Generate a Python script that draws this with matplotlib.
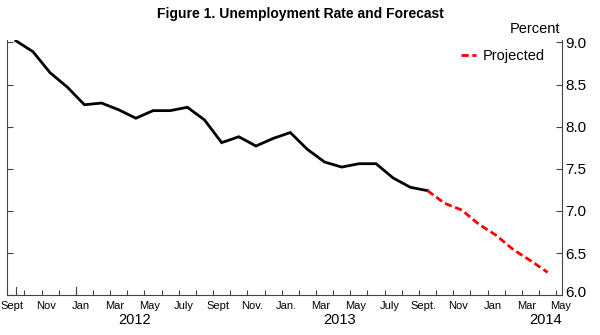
import matplotlib
matplotlib.use("Agg")
import matplotlib.pyplot as plt
import matplotlib.transforms as mtransforms
import numpy as np

# months since Sept 2011 (data at mid-month)
actual = [9.02, 8.89, 8.64, 8.47, 8.26, 8.28, 8.20, 8.10, 8.19, 8.19, 8.23, 8.08,
          7.81, 7.88, 7.77, 7.86, 7.93, 7.73, 7.58, 7.52, 7.56, 7.56, 7.39, 7.28, 7.24]
projected = [7.24, 7.09, 7.01, 6.84, 6.71, 6.54, 6.41, 6.27]

month_labels = ["Sept", "Nov", "Jan", "Mar", "May", "July", "Sept", "Nov.", "Jan.",
                "Mar", "May", "July", "Sept.", "Nov", "Jan", "Mar", "May"]
years = ["2012", "2013", "2014"]
year_pos = [6.95, 18.9, 30.9]

plt.rcParams['font.family'] = ['Liberation Sans', 'DejaVu Sans']

fig = plt.figure(figsize=(6, 3.35), dpi=100)
ax = fig.add_axes([0.012, 0.119, 0.925, 0.762])

x_act = np.arange(len(actual))
x_proj = np.arange(len(actual) - 1, len(actual) - 1 + len(projected))

ax.plot(x_act, actual, color='black', lw=2.0, solid_joinstyle='miter')
ax.plot(x_proj, projected, color='red', lw=2.0, dashes=(2.6, 1.3), label='Projected')

ax.set_xlim(-0.5, 31.85)
ax.set_ylim(6.0, 9.03)

# y axis on right, ticks inward on both sides
ax.yaxis.tick_right()
ax.set_yticks(np.arange(6.0, 9.01, 0.5))
ax.set_yticklabels([f"{v:.1f}" for v in np.arange(6.0, 9.01, 0.5)])
ax.tick_params(axis='y', which='major', direction='in', length=4, width=0.8,
               labelsize=11, pad=2, left=True, right=True, colors='#444444',
               labelcolor='black')
# lowest label nudged up a touch, clear of "May"
lbl = ax.get_yticklabels()[0]
lbl.set_transform(lbl.get_transform() +
                  mtransforms.ScaledTranslation(0, 2.5 / 72, fig.dpi_scale_trans))

# x axis: short ticks at month starts, labels shifted a bit right
month_starts = np.arange(-0.5, 32, 1.0)
ax.set_xticks(month_starts, minor=True)
label_pos = np.arange(-0.5, 32, 2.0) + 0.28
ax.set_xticks(label_pos)
ax.set_xticklabels(month_labels)
ax.tick_params(axis='x', which='major', length=0, labelsize=8, pad=4)
ax.tick_params(axis='x', which='minor', direction='in', length=3.5, width=0.8,
               color='#444444')
# taller ticks
for xt in [0, 3.5]:
    ax.axvline(xt, ymin=0, ymax=0.03, color='#444444', lw=0.8)

for y, t in zip(year_pos, years):
    ax.text(y, -0.097, t, transform=ax.get_xaxis_transform(), ha='center',
            va='center', fontsize=10.5)

for s in ['left', 'right', 'bottom']:
    ax.spines[s].set_color('#444444')
    ax.spines[s].set_linewidth(0.8)
ax.spines['top'].set_visible(False)

ax.legend(loc='upper right', bbox_to_anchor=(0.985, 1.0), frameon=False,
          fontsize=10.5, handlelength=1.0, handletextpad=0.5, borderaxespad=0.2)

fig.text(0.933, 0.913, "Percent", ha='right', va='center', fontsize=10.5)
fig.suptitle("Figure 1. Unemployment Rate and Forecast", x=0.5, y=0.98,
             fontsize=10, fontweight='bold', va='top')

fig.savefig("out.png", dpi=100)
